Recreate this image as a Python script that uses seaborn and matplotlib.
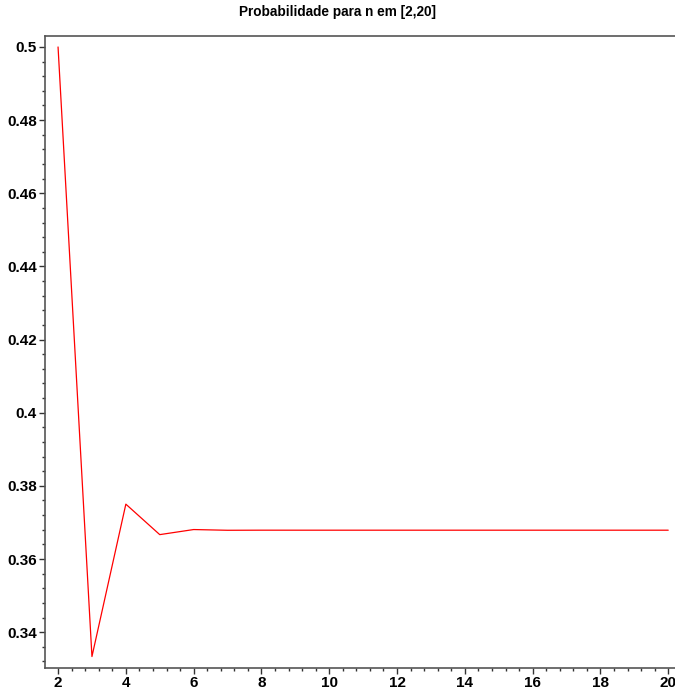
import matplotlib
matplotlib.use("Agg")
import matplotlib.pyplot as plt
import seaborn as sns
import pandas as pd
from matplotlib.ticker import MultipleLocator

n_values = list(range(2, 21))
probabilities = [0.5, 0.333333, 0.375, 0.366667, 0.368056, 0.367857, 0.367882,
                 0.367879, 0.367879, 0.367879, 0.367879, 0.367879, 0.367879,
                 0.367879, 0.367879, 0.367879, 0.367879, 0.367879, 0.367879]
title = "Probabilidade para n em [2,20]"

sns.set_style("white")
plt.rcParams['font.family'] = ['Liberation Sans', 'DejaVu Sans']

df = pd.DataFrame({"n": n_values, "p": probabilities})
fig = plt.figure(figsize=(6.75, 6.91), dpi=100)
ax = fig.add_axes([45/675, 23/691, 1 - 45/675 + 0.002, (668-36)/691])
sns.lineplot(data=df, x="n", y="p", ax=ax, color="red", linewidth=0.9)

ax.set_xlim(1.615, 20.24)
ax.set_ylim(0.3302, 0.503)
ax.xaxis.set_major_locator(MultipleLocator(2))
ax.xaxis.set_minor_locator(MultipleLocator(0.4))
ax.yaxis.set_major_locator(MultipleLocator(0.02))
ax.yaxis.set_minor_locator(MultipleLocator(0.004))
ax.xaxis.set_major_formatter(matplotlib.ticker.FuncFormatter(lambda v, p: f"{int(round(v))}"))
ax.yaxis.set_major_formatter(matplotlib.ticker.FuncFormatter(
    lambda v, p: f"{v:.2f}".rstrip("0").rstrip(".")))
ax.set_xlabel("")
ax.set_ylabel("")
ax.tick_params(axis="both", which="major", direction="out", length=4, width=1,
               color="#333333", labelsize=11, pad=2, labelcolor="black")
ax.tick_params(axis="both", which="minor", direction="out", length=2, width=1,
               color="#333333")
ax.tick_params(axis="both", which="both", bottom=True, left=True)
for lab in ax.get_xticklabels() + ax.get_yticklabels():
    lab.set_fontweight("bold")
for s in ["left", "bottom", "top"]:
    ax.spines[s].set_visible(True)
    ax.spines[s].set_color("#555555")
    ax.spines[s].set_linewidth(1.2)
ax.spines["right"].set_visible(False)
fig.text(0.5, 1 - 12/691, title, ha="center", va="center",
         fontsize=9.8, fontweight="bold", color="black")
fig.savefig("out.png", dpi=100)
